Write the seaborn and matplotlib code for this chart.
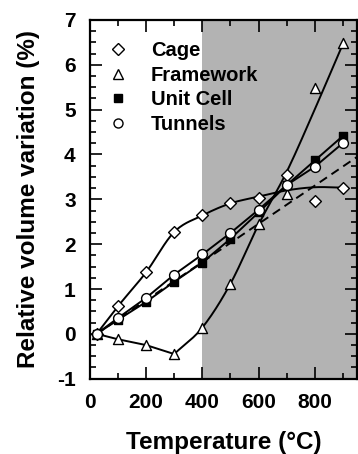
import numpy as np
import pandas as pd
import matplotlib
matplotlib.use("Agg")
import matplotlib.pyplot as plt
from matplotlib.lines import Line2D
from matplotlib.ticker import MultipleLocator
import seaborn as sns

# Temperatures (°C)
temperature = [25, 100, 200, 300, 400, 500, 600, 700, 800, 900]

# Relative volume variation (%) for each structural unit
cage = [0.0, 0.61, 1.37, 2.27, 2.64, 2.91, 3.04, 3.54, 2.97, 3.26]
framework = [0.0, -0.12, -0.25, -0.45, 0.14, 1.12, 2.44, 3.11, 5.49, 6.48]
unit_cell = [0.0, 0.31, 0.71, 1.16, 1.59, 2.12, 2.71, 3.32, 3.87, 4.42]
tunnels = [0.0, 0.35, 0.80, 1.32, 1.77, 2.25, 2.77, 3.32, 3.73, 4.26]

# Guide-curve knots for the cage and framework trends
cage_fit_t = [25, 100, 200, 300, 400, 500, 600, 700, 800, 900]
cage_fit_v = [0.0, 0.61, 1.37, 2.27, 2.64, 2.91, 3.06, 3.20, 3.27, 3.26]
frame_lin_t = [25, 100, 200, 300]
frame_lin_v = [0.0, -0.12, -0.25, -0.45]
frame_fit_t = [300, 400, 500, 600, 700, 800, 900]
frame_fit_v = [-0.45, 0.14, 1.12, 2.44, 3.62, 5.02, 6.48]

# Linear thermal-expansion extrapolation of the unit cell
lin_slope = 0.00427
lin_t = [25, 950]

shade_start = 400


def smooth(xk, yk, n=25):
    """Cubic Hermite curve through knots with finite-difference tangents."""
    xk = np.asarray(xk, float)
    yk = np.asarray(yk, float)
    m = np.gradient(yk, xk)
    xs, ys = [], []
    for i in range(len(xk) - 1):
        h = xk[i + 1] - xk[i]
        t = np.linspace(0, 1, n, endpoint=(i == len(xk) - 2))
        h00 = 2 * t**3 - 3 * t**2 + 1
        h10 = t**3 - 2 * t**2 + t
        h01 = -2 * t**3 + 3 * t**2
        h11 = t**3 - t**2
        xs.append(xk[i] + t * h)
        ys.append(h00 * yk[i] + h10 * h * m[i] + h01 * yk[i + 1] + h11 * h * m[i + 1])
    return np.concatenate(xs), np.concatenate(ys)


sns.set_style("ticks")
plt.rcParams["font.family"] = ["Liberation Sans", "DejaVu Sans"]
plt.rcParams["font.weight"] = "bold"
plt.rcParams["axes.unicode_minus"] = False
plt.rcParams["text.color"] = "black"
plt.rcParams["axes.labelcolor"] = "black"
plt.rcParams["xtick.color"] = "black"
plt.rcParams["ytick.color"] = "black"

fig = plt.figure(figsize=(3.58, 4.54), dpi=100)
ax = fig.add_axes([0.2503, 0.1659, 0.7477, 0.7901])

ax.axvspan(shade_start, 950, color="#b3b3b3", lw=0, zorder=0)

lw = 1.4
cx, cy = smooth(cage_fit_t, cage_fit_v)
fx, fy = smooth(frame_fit_t, frame_fit_v)
curves = pd.DataFrame({
    "t": np.concatenate([cx, frame_lin_t, fx]),
    "v": np.concatenate([cy, frame_lin_v, fy]),
    "g": (["cage"] * len(cx) + ["frame_a"] * len(frame_lin_t) + ["frame_b"] * len(fx)),
})
for g, sub in curves.groupby("g"):
    sns.lineplot(data=sub, x="t", y="v", ax=ax, color="black", lw=lw,
                 sort=False, estimator=None, zorder=2)

lin_v = [lin_slope * (t - temperature[0]) for t in lin_t]
sns.lineplot(x=lin_t, y=lin_v, ax=ax, color="black", lw=lw,
             dashes=False, zorder=2).lines[-1].set_dashes([4.5, 2.8])

for vals in (unit_cell, tunnels):
    sns.lineplot(x=temperature, y=vals, ax=ax, color="black", lw=lw, zorder=3)

ew = 1.0
sns.scatterplot(x=temperature, y=cage, ax=ax, marker="D", s=36,
                facecolor="white", edgecolor="black", linewidth=ew, zorder=4)
sns.scatterplot(x=temperature, y=framework, ax=ax, marker="^", s=52,
                facecolor="white", edgecolor="black", linewidth=ew, zorder=4)
sns.scatterplot(x=temperature, y=unit_cell, ax=ax, marker="s", s=40,
                facecolor="black", edgecolor="black", linewidth=ew, zorder=5)
sns.scatterplot(x=temperature, y=tunnels, ax=ax, marker="o", s=50,
                facecolor="white", edgecolor="black", linewidth=ew, zorder=6)

ax.set_xlim(0, 950)
ax.set_ylim(-1, 7)
ax.xaxis.set_major_locator(MultipleLocator(200))
ax.xaxis.set_minor_locator(MultipleLocator(100))
ax.yaxis.set_major_locator(MultipleLocator(1))
ax.yaxis.set_minor_locator(MultipleLocator(0.25))
ax.tick_params(which="both", direction="in", top=True, right=True,
               width=1.2, colors="black")
ax.tick_params(which="major", length=8.5, pad=10, labelsize=15)
ax.tick_params(which="minor", length=4.3)
for s in ax.spines.values():
    s.set_linewidth(1.6)
    s.set_color("black")
for lab in ax.get_xticklabels() + ax.get_yticklabels():
    lab.set_fontweight("bold")

ax.set_xlabel("Temperature (°C)", fontsize=17.5, fontweight="bold", labelpad=14)
ax.set_ylabel("Relative volume variation (%)", fontsize=17.5, fontweight="bold",
              labelpad=12)

handles = [
    Line2D([], [], ls="none", marker="D", ms=6, mfc="white", mec="black", mew=ew),
    Line2D([], [], ls="none", marker="^", ms=6.5, mfc="white", mec="black", mew=ew),
    Line2D([], [], ls="none", marker="s", ms=6, mfc="black", mec="black", mew=ew),
    Line2D([], [], ls="none", marker="o", ms=6.5, mfc="white", mec="black", mew=ew),
]
leg = ax.legend(handles, ["Cage", "Framework", "Unit Cell", "Tunnels"],
                loc="upper left", bbox_to_anchor=(0.015, 0.975), frameon=False,
                prop={"size": 14.5, "weight": "bold"}, handlelength=1.2,
                handletextpad=1.05, labelspacing=0.28, borderaxespad=0.2)

fig.savefig("out.png", dpi=100)
